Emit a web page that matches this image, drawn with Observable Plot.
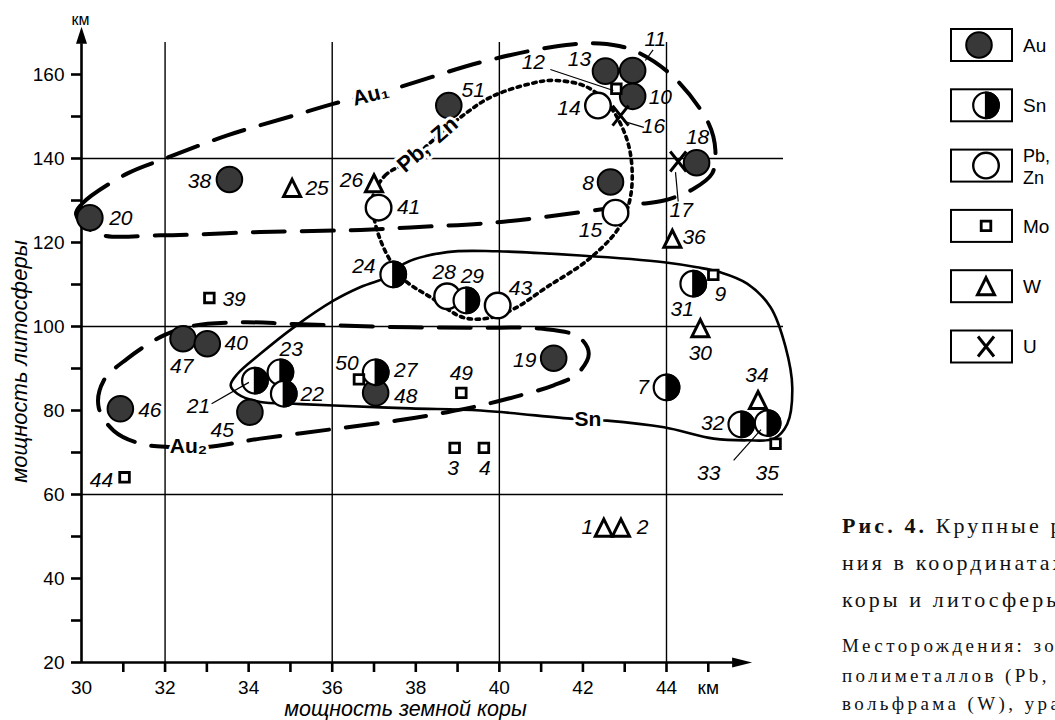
<!DOCTYPE html>
<html><head><meta charset="utf-8">
<script src="https://cdn.jsdelivr.net/npm/d3@7"></script>
<script src="https://cdn.jsdelivr.net/npm/@observablehq/plot@0.6"></script>
<style>
html,body{margin:0;padding:0;background:#fff;overflow:hidden;width:1055px;height:720px;}
#wrap{position:relative;width:1055px;height:720px;}
#wrap svg{position:absolute;left:0;top:0;}
</style></head><body><div id="wrap"></div>
<script>
// ---- data: [id, crust thickness (km), lithosphere thickness (km)] ----
const gold = [[20,30.20,125.9],[38,33.54,135.0],[51,38.79,152.6],[13,42.54,160.8],[11,43.19,160.95],[10,43.19,154.8],[8,42.66,134.4],[18,44.72,139.0],[47,32.43,97.1],[40,33.01,95.9],[46,30.93,80.4],[45,34.03,79.6],[48,37.04,84.2],[19,41.30,92.45]];
const polymetal = [[41,37.11,128.3],[14,42.36,152.6],[15,42.78,127.1],[28,38.75,107.2],[43,39.96,105.0]];
const tin = [[24,37.46,112.4],[29,39.21,106.2],[31,44.64,110.2],[23,34.76,89.1],[22,34.84,84.0],[21,34.15,87.1],[27,37.04,89.1],[7,44.0,85.5],[32,45.79,76.7],[33,46.42,77.0]];
const molybdenum = [[3,38.93,71.1],[4,39.63,71.1],[9,45.12,112.3],[12,42.80,156.6],[35,46.61,72.1],[39,33.06,106.8],[44,31.03,64.1],[49,39.09,84.2],[50,36.64,87.4]];
const tungsten = [[1,42.50,52.1],[2,42.91,52.1],[25,35.04,133.0],[26,37.0,134.1],[30,44.81,99.6],[34,46.19,82.5],[36,44.14,120.9]];
const uranium = [[16,42.90,150.2],[17,44.28,139.3]];

// ---- contour outlines ----
const contourAu1 = [[29.87,126.7],[30.02,129.3],[31.09,136.4],[32.03,140.1],[33.49,145.5],[35.07,150.2],[36.02,153.0],[37.47,156.6],[39.55,162.9],[41.3,166.6],[42.4,167.4],[43.22,165.7],[44.17,159.4],[45.01,148.3],[45.17,141.9],[45.09,136.4],[44.65,132.8],[43.94,130.0],[43.22,129.0],[41.94,127.2],[39.95,124.8],[37.87,123.6],[36.68,123.0],[34.28,122.5],[31.89,121.7],[30.38,122.1]];
const contourPbZn = [[36.96,130.5],[37.27,136.0],[37.87,139.5],[38.35,143.8],[39.07,149.8],[39.79,154.6],[40.74,157.8],[41.30,158.6],[42.10,157.0],[42.66,152.2],[43.06,144.3],[43.18,136.4],[43.10,129.2],[42.82,122.9],[42.10,115.7],[41.14,109.4],[40.35,104.2],[39.79,102.1],[39.15,102.1],[38.35,107.0],[37.75,110.9],[37.39,115.7],[37.13,121.2],[36.99,126.4]];
const contourSn = [[38.75,117.7],[39.95,117.9],[41.94,116.9],[43.94,115.3],[44.73,114.1],[45.29,112.9],[45.93,110.2],[46.49,104.6],[46.85,95.1],[47.01,85.5],[46.89,76.8],[46.57,73.3],[45.93,72.9],[45.13,73.3],[43.94,76.0],[42.58,77.6],[41.78,78.0],[39.55,80.0],[37.87,80.5],[36.04,81.2],[35.08,81.6],[34.28,82.0],[33.73,84.0],[33.57,86.0],[33.73,88.7],[34.28,93.5],[35.08,99.8],[36.04,106.2],[36.68,109.4],[37.46,112.4],[37.71,114.9]];
const contourAu2 = [[31.97,97.9],[32.69,100.2],[33.88,101.0],[35.08,100.6],[37.87,99.8],[39.55,99.7],[40.98,99.5],[41.90,97.5],[42.14,93.5],[41.86,88.7],[41.30,86.0],[40.35,83.2],[39.55,81.2],[38.75,79.6],[37.55,77.6],[36.04,75.6],[34.28,73.3],[33.01,71.3],[32.13,71.3],[31.41,72.1],[30.77,75.2],[30.41,80.8],[30.53,87.1],[31.09,92.3]];
const contourLabels = [["Au₁",36.92,155.2],["Pb,\u2002Zn",38.28,143.3],["Sn",42.12,77.8],["Au₂",32.56,71.4]];

// ---- axes ----
const yTicks = [20,30,40,50,60,70,80,90,100,110,120,130,140,150,160];
const yTickLabels = [20,40,60,80,100,120,140,160];
const xTicks = [31,32,33,34,35,36,37,38,39,40,41,42,43,44,45];
const xTickLabels = [30,32,34,36,38,40,42,44];
const gridX = [32,36,40,44];
const gridY = [60,100,140];

const legendKeys = ["Au","Sn","PbZn","Mo","W","U"];
const legendLabels = [["Au"],["Sn"],["Pb,","Zn"],["Mo"],["W"],["U"]];

const captionLines = [
  [["Рис. 4.", true], [" Крупные рудные месторожде-", false]],
  [["ния в координатах мощности земной", false]],
  [["коры и литосферы.", false]],
  [["Месторождения: золота (Au), олова (Sn),", false]],
  [["полиметаллов (Pb, Zn), молибдена (Mo),", false]],
  [["вольфрама (W), урана (U).", false]]
];

// ---- presentation ----
const labelOffset = {1:[-16.6,0],2:[21.7,0],3:[-1.5,20],4:[1,20],7:[-23.5,0],8:[-22.5,1],9:[7,19],10:[27.7,1],11:[22.7,-31],12:[-83,-26.6],13:[-26,-11.4],14:[-29,3],15:[-25,18],16:[33,11],17:[3,49],18:[1,-25.6],19:[-29,2.3],20:[31,1],21:[-56.5,25.7],22:[28.4,0.7],23:[10.8,-23.4],24:[-29.4,-8],25:[25,0.8],26:[-22.5,-2.7],27:[30,-1.7],28:[-3,-24],29:[6,-24],30:[0,25],31:[-11,26],32:[-28.5,-1.3],33:[-59,50.6],34:[-1,-24.5],35:[-8.3,30],36:[21.7,-1],38:[-30,2],39:[24.7,1],40:[29,0],41:[30,0],43:[22.7,-17.7],44:[-23,3],45:[-27.6,17.6],46:[29.5,1],47:[-1.4,27.7],48:[30,3.4],49:[0,-19.6],50:[-12,-16.3],51:[24.5,-15.7]};
const leaderOffset = {12:[-66,-19.3,-3,1.7],11:[12.7,-10,20.4,-20.7],16:[3.3,5.7,23.3,11.7],17:[-2.7,10.7,0,40],21:[-6,1.7,-43.3,23],33:[-6.6,6.6,-34,37.3]};
const contourRotate = {"Au₁":-14,"Pb,\u2002Zn":-41,"Sn":0,"Au₂":0};
const contourSize = {"Au₁":21,"Pb,\u2002Zn":22,"Sn":21,"Au₂":21};

const W = 800, H = 720, ML = 81, MT = 74, MB = 58, MR = W - 666;
const kx = (44-30)/(666-ML), ky = (160-20)/(H-MB-MT);

const halfRight = {draw(c,s){const r=Math.sqrt(s/Math.PI);c.moveTo(0,-r);c.arc(0,0,r,-Math.PI/2,Math.PI/2);c.closePath();}};
const squareSym = {draw(c,s){const r=Math.sqrt(s/Math.PI);c.moveTo(-r,-r);c.lineTo(r,-r);c.lineTo(r,r);c.lineTo(-r,r);c.closePath();}};
const triSym = {draw(c,s){const r=Math.sqrt(s/Math.PI);c.moveTo(0,-r);c.lineTo(r,r);c.lineTo(-r,r);c.closePath();}};
const crossSym = {draw(c,s){const r=Math.sqrt(s/Math.PI);c.moveTo(-0.8*r,-r);c.lineTo(0.8*r,r);c.moveTo(-0.8*r,r);c.lineTo(0.8*r,-r);}};
const arrowUp = {draw(c){c.moveTo(0,-17);c.lineTo(5.5,0);c.lineTo(-5.5,0);c.closePath();}};
const arrowRight = {draw(c){c.moveTo(20,0);c.lineTo(0,-5);c.lineTo(0,5);c.closePath();}};

const R_CIRC = 12.8, R_SQ = 4.8, R_TRI = 8.5, R_X = 10;
const X = d => d[1], Y = d => d[2];
const all = [...gold, ...polymetal, ...tin, ...molybdenum, ...tungsten, ...uranium];
const byId = new Map(all.map(d => [d[0], d]));

const lines = [
  [contourAu1, {strokeWidth: 4, strokeDasharray: "32,17"}],
  [contourAu2, {strokeWidth: 4, strokeDasharray: "32,17"}],
  [contourPbZn, {strokeWidth: 3.6, strokeDasharray: "3.4,4.6"}],
  [contourSn, {strokeWidth: 2.6}]
].map(([data, o]) => Plot.line(data, {x: d => d[0], y: d => d[1], curve: "catmull-rom-closed", stroke: "black", fill: "none", ...o}));

const leaders = Object.entries(leaderOffset).map(([id, o]) => {
  const d = byId.get(+id);
  return {x1: d[1] + o[0]*kx, y1: d[2] - o[1]*ky, x2: d[1] + o[2]*kx, y2: d[2] - o[3]*ky};
});

const plot = Plot.plot({
  width: W, height: H, marginLeft: ML, marginRight: MR, marginTop: MT, marginBottom: MB,
  x: {domain: [30, 44]}, y: {domain: [20, 160]},
  style: {fontFamily: "'Liberation Sans', Arial, sans-serif", color: "black", background: "transparent", overflow: "visible"},
  marks: [
    Plot.ruleX(gridX, {x: d => d, y1: 20, y2: 167.6, stroke: "black", strokeWidth: 1.4}),
    Plot.ruleY(gridY, {y: d => d, x1: 30, x2: 46.8, stroke: "black", strokeWidth: 1.4}),
    Plot.ruleX([30], {x: d => d, y1: 19.8, y2: 167.3, stroke: "black", strokeWidth: 2.6}),
    Plot.ruleY([20], {y: d => d, x1: 30, x2: 45.6, stroke: "black", strokeWidth: 2.6}),
    Plot.dot([[30, 167.3]], {x: d => d[0], y: d => d[1], r: 1, symbol: arrowUp, fill: "black", stroke: "none"}),
    Plot.dot([[45.57, 20]], {x: d => d[0], y: d => d[1], r: 1, symbol: arrowRight, fill: "black", stroke: "none"}),
    Plot.axisY({ticks: yTicks, tickSize: 10, tickFormat: () => "", strokeWidth: 2.6, label: null, anchor: "left"}),
    Plot.axisY({ticks: yTickLabels, tickSize: 0, tickPadding: 17, fontSize: 19, label: null, anchor: "left"}),
    Plot.axisX({ticks: xTicks, tickSize: 10, tickFormat: () => "", strokeWidth: 2.6, label: null, anchor: "bottom"}),
    Plot.axisX({ticks: [...xTickLabels, 45], tickSize: 0, tickPadding: 18, fontSize: 19, tickFormat: d => d === 45 ? "км" : String(d), label: null, anchor: "bottom"}),
    Plot.text(["км"], {frameAnchor: "top-left", dx: -1, dy: -55, fontSize: 16, textAnchor: "middle", lineAnchor: "middle"}),
    Plot.text(["мощность литосферы"], {frameAnchor: "left", dx: -62, dy: -7, rotate: -90, fontSize: 22, fontStyle: "italic", textAnchor: "middle", lineAnchor: "middle"}),
    Plot.text(["мощность земной коры"], {frameAnchor: "bottom", dx: 31.5, dy: 46.5, fontSize: 21.5, fontStyle: "italic", textAnchor: "middle", lineAnchor: "middle"}),
    ...lines,
    Plot.dot(gold, {x: X, y: Y, r: R_CIRC, fill: "#383838", stroke: "black", strokeWidth: 2}),
    Plot.dot(polymetal, {x: X, y: Y, r: R_CIRC, fill: "white", stroke: "black", strokeWidth: 2.4}),
    ...tin.flatMap(d => [
      Plot.dot([d], {x: X, y: Y, r: R_CIRC, fill: "white", stroke: "black", strokeWidth: 2.2}),
      Plot.dot([d], {x: X, y: Y, r: R_CIRC, symbol: halfRight, fill: "black", stroke: "black", strokeWidth: 2.2})
    ]),
    Plot.dot(molybdenum, {x: X, y: Y, r: R_SQ, symbol: squareSym, fill: "white", stroke: "black", strokeWidth: 2.8}),
    Plot.dot(tungsten, {x: X, y: Y, r: R_TRI, symbol: triSym, fill: "white", stroke: "black", strokeWidth: 3, strokeLinejoin: "miter"}),
    Plot.dot(uranium, {x: X, y: Y, r: R_X, symbol: crossSym, fill: "none", stroke: "black", strokeWidth: 3}),
    Plot.link(leaders, {x1: "x1", y1: "y1", x2: "x2", y2: "y2", stroke: "black", strokeWidth: 1.2}),
    ...all.map(d => {
      const o = labelOffset[d[0]] || [24, 0];
      return Plot.text([d], {x: X, y: Y, text: d => String(d[0]), dx: o[0], dy: o[1], fontSize: 21, fontStyle: "italic", textAnchor: "middle", lineAnchor: "middle", fill: "black"});
    }),
    ...contourLabels.map(d => Plot.text([d], {x: d => d[1], y: d => d[2], text: d => d[0], rotate: contourRotate[d[0]], fontSize: contourSize[d[0]], fontWeight: "bold", fill: "black", stroke: "white", strokeWidth: 6, paintOrder: "stroke", strokeLinejoin: "round", textAnchor: "middle", lineAnchor: "middle"}))
  ]
});
document.getElementById("wrap").appendChild(plot);

// ---- legend and caption overlay ----
const ov = d3.select("#wrap").append("svg").attr("width", 1055).attr("height", 720)
  .style("font-family", "'Liberation Sans', Arial, sans-serif");
function symPath(sym, r){ const p = d3.path(); sym.draw(p, Math.PI*r*r); return p.toString(); }
legendKeys.forEach((k, i) => {
  const top = 29 + i*60.3, cy = top + 16, cx = k === "Au" ? 979 : 986;
  const g = ov.append("g");
  g.append("rect").attr("x", 951).attr("y", top).attr("width", 61).attr("height", 32).attr("fill", "white").attr("stroke", "black").attr("stroke-width", 2);
  const s = g.append("g").attr("transform", `translate(${cx},${cy})`);
  if (k === "Au") s.append("circle").attr("r", R_CIRC).attr("fill", "#383838").attr("stroke", "black").attr("stroke-width", 2);
  if (k === "PbZn") s.append("circle").attr("r", R_CIRC).attr("fill", "white").attr("stroke", "black").attr("stroke-width", 2.4);
  if (k === "Sn") {
    s.append("circle").attr("r", R_CIRC).attr("fill", "white").attr("stroke", "black").attr("stroke-width", 2.2);
    s.append("path").attr("d", symPath(halfRight, R_CIRC)).attr("fill", "black").attr("stroke", "black").attr("stroke-width", 2.2);
  }
  if (k === "Mo") s.append("path").attr("d", symPath(squareSym, R_SQ)).attr("fill", "white").attr("stroke", "black").attr("stroke-width", 2.8);
  if (k === "W") s.append("path").attr("d", symPath(triSym, R_TRI)).attr("fill", "white").attr("stroke", "black").attr("stroke-width", 3);
  if (k === "U") s.append("path").attr("d", symPath(crossSym, R_X)).attr("fill", "none").attr("stroke", "black").attr("stroke-width", 3);
  const lab = legendLabels[i];
  lab.forEach((t, j) => {
    const y = lab.length === 1 ? cy : cy + (j === 0 ? -10 : 12);
    g.append("text").attr("x", 1023).attr("y", y).attr("dy", "0.35em").attr("font-size", lab.length === 1 ? 19 : 18).text(t);
  });
});
const baselines = [533, 570, 607, 652, 682, 710];
captionLines.forEach((parts, i) => {
  const t = ov.append("text").attr("x", 842).attr("y", baselines[i])
    .attr("font-family", "'Liberation Serif', 'Times New Roman', serif")
    .attr("font-size", i < 3 ? 22 : 19).attr("letter-spacing", i < 3 ? 3.1 : 3.4).attr("fill", "#111");
  parts.forEach(([s, b]) => t.append("tspan").attr("font-weight", b ? "bold" : "normal").text(s));
});
</script></body></html>
